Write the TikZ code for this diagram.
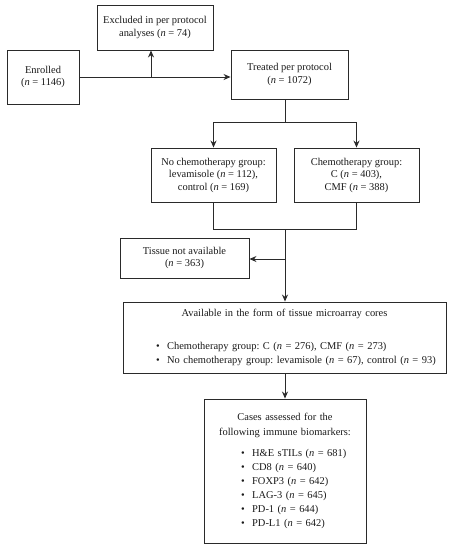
\documentclass[tikz,border=0pt]{standalone}
\usepackage{fontspec}
\setmainfont{Liberation Serif}
\usetikzlibrary{arrows.meta}
\definecolor{linec}{HTML}{2A2A2A}
\definecolor{textc}{HTML}{1A1A1A}
\newcommand{\nn}{\textit{n}}
\newcommand{\bitem}[2]{\noindent\hspace*{#1}\mbox{\textbullet\hspace{7.5pt}#2}\par}
\begin{document}
\begin{tikzpicture}[x=1pt,y=-1pt,
  box/.style={draw=linec, line width=0.9pt, align=center, inner sep=0pt, text=textc,
    font=\fontsize{10.45}{12.5}\selectfont\frenchspacing},
  conn/.style={draw=linec, line width=0.9pt},
  arr/.style={conn, -{Stealth[length=7pt,width=6pt]}}]
\useasboundingbox (0,0) rectangle (454,550);
\node[box, minimum width=72pt, minimum height=54pt] (enr) at (43,77) {Enrolled\\(\nn{} = 1146)};
\node[box, minimum width=116pt, minimum height=45pt] (exc) at (155,27.5) {Excluded in per protocol\\analyses (\nn{} = 74)};
\node[box, minimum width=117pt, minimum height=49pt] (trt) at (289.5,74.5) {Treated per protocol\\(\nn{} = 1072)};
\node[box, minimum width=125pt, minimum height=54pt] (noc) at (213.5,175) {No chemotherapy group:\\levamisole (\nn{} = 112),\\control (\nn{} = 169)};
\node[box, minimum width=125pt, minimum height=54pt] (che) at (356.5,175) {Chemotherapy group:\\C (\nn{} = 403),\\CMF (\nn{} = 388)};
\node[box, minimum width=129pt, minimum height=40pt] (tis) at (184.5,258) {Tissue not available\\(\nn{} = 363)};
\node[box, text width=323pt, minimum height=71pt, align=left] (avl) at (284.5,337.5) {%
  \parindent=0pt
  {\centering Available in the form of tissue microarray cores\par}%
  \vspace{19pt}%
  {\fontsize{10.45}{14}\selectfont
  \bitem{33pt}{Chemotherapy group: C (\nn{} = 276), CMF (\nn{} = 273)}
  \bitem{33pt}{No chemotherapy group: levamisole (\nn{} = 67), control (\nn{} = 93)}}};
\node[box, text width=162pt, minimum height=144pt, align=left] (cas) at (285,471) {%
  \parindent=0pt
  {\centering\fontsize{10.45}{15}\selectfont Cases assessed for the\\following immune biomarkers:\par}%
  \vspace{7pt}%
  {\fontsize{10.45}{14}\selectfont
  \bitem{37pt}{H\&E sTILs (\nn{} = 681)}
  \bitem{37pt}{CD8 (\nn{} = 640)}
  \bitem{37pt}{FOXP3 (\nn{} = 642)}
  \bitem{37pt}{LAG-3 (\nn{} = 645)}
  \bitem{37pt}{PD-1 (\nn{} = 644)}
  \bitem{37pt}{PD-L1 (\nn{} = 642)}}};
\coordinate (j1) at (151,77);
\coordinate (s1) at (285,122);
\coordinate (m1) at (285,229);
\coordinate (t1) at (285,259);
\draw[arr] (enr.east) -- (enr.east -| trt.west);
\draw[arr] (j1) -- (j1 |- exc.south);
\draw[conn] (trt.south -| s1) -- (s1);
\draw[conn] (s1 -| noc.north) -- (s1 -| che.north);
\draw[arr] (s1 -| noc.north) -- (noc.north);
\draw[arr] (s1 -| che.north) -- (che.north);
\draw[conn] (noc.south) -- (m1 -| noc.south) -- (m1 -| che.south) -- (che.south);
\draw[arr] (m1) -- (m1 |- avl.north);
\draw[arr] (t1) -- (t1 -| tis.east);
\draw[arr] (avl.south -| m1) -- (m1 |- cas.north);
\end{tikzpicture}
\end{document}
